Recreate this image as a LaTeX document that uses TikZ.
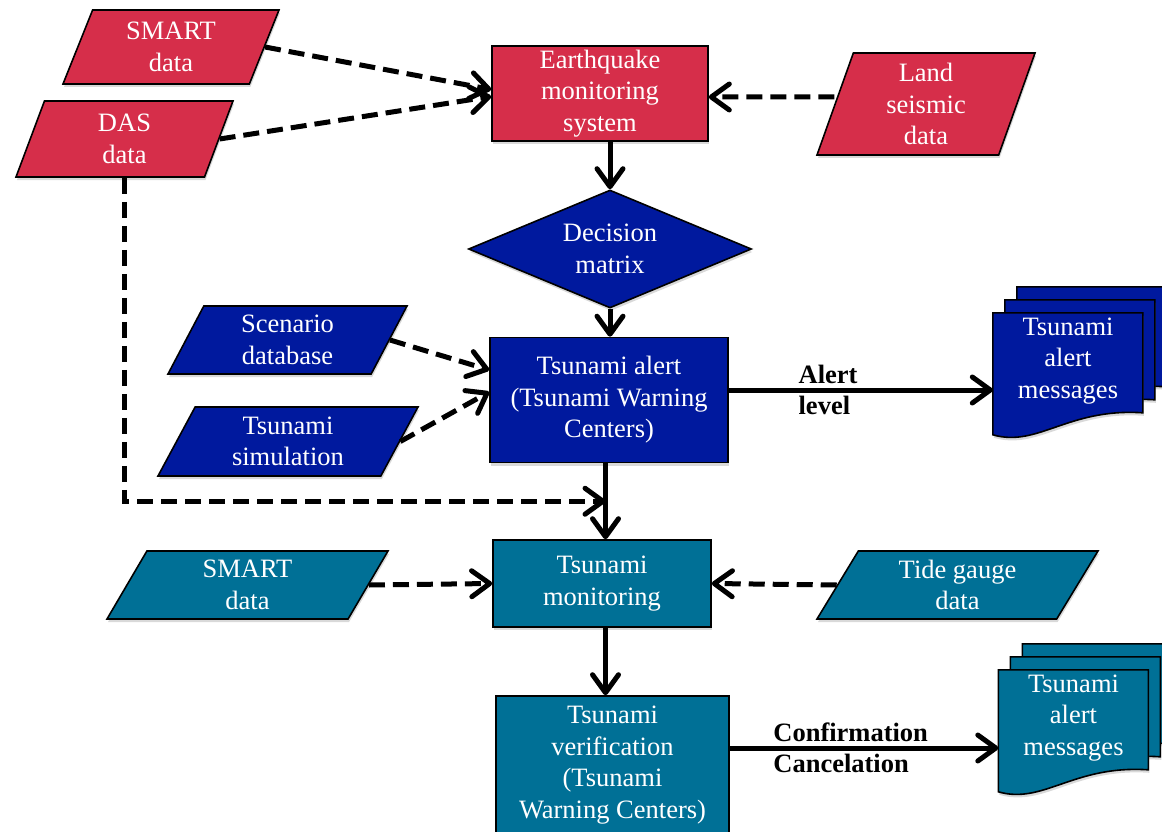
\documentclass[tikz,border=0pt]{standalone}
\usepackage{fontspec}
\setmainfont{Liberation Serif}
\usetikzlibrary{shapes.geometric, arrows.meta, positioning, calc, shadows, backgrounds}
\definecolor{cQuake}{RGB}{214,46,74}
\definecolor{cAlert}{RGB}{0,25,158}
\definecolor{cMon}{RGB}{0,112,150}
\newcommand{\boxfont}{\fontsize{26.5}{31.5}\selectfont}
\tikzset{
	% flowchart shapes
	soft/.style     ={drop shadow={shadow xshift=1pt, shadow yshift=-3pt, opacity=0.3}},
	lowtext/.style  ={execute at begin node={\rule{0pt}{24pt}}},
	procbox/.style  ={rectangle, draw=black, line width=1.6pt, text=white, align=center, font=\boxfont, inner sep=2pt, lowtext, soft},
	datain/.style   ={trapezium, trapezium stretches body, draw=black, line width=1.6pt, text=white, align=center, font=\boxfont, inner sep=0pt, lowtext, soft},
	choice/.style   ={diamond, aspect=2.4, draw=black, line width=1.6pt, text=white, align=center, font=\boxfont, inner sep=0pt, lowtext, soft},
	msgtext/.style  ={rectangle, minimum width=150pt, minimum height=96pt, text=white, align=center, font=\boxfont, inner sep=0pt, lowtext},
	sheet/.style    ={draw=black, line width=1.6pt, soft},
	% connectors
	flow/.style     ={-{Straight Barb[length=18pt, width=26pt, round]}, line width=5pt},
	dflow/.style    ={flow, dash pattern=on 16pt off 8pt},
	lvl/.style      ={font=\boxfont\bfseries, align=left, inner sep=0pt},
}
% one page of a message stack, #1 = top left corner, #2 = fill
\newcommand{\msgsheet}[2]{%
	\begin{scope}[shift={#1}]
		\draw[sheet, fill=#2] (0,0) -- (150,0) -- (150,100) .. controls (75,95) and (45,135) .. (0,122) -- cycle;
	\end{scope}}

\begin{document}
\begin{tikzpicture}[x=1pt, y=-1pt]
	\useasboundingbox (0,0) rectangle (1162,832);

	% earthquake monitoring
	\node[procbox, fill=cQuake, minimum width=216pt, minimum height=95pt] (ems) at (600,93.5) {Earthquake\\monitoring\\system};
	\node[datain, fill=cQuake, trapezium left angle=59, trapezium right angle=121, minimum width=216pt, minimum height=74pt] (smart1) at (171,47) {SMART\\data};
	\node[datain, fill=cQuake, trapezium left angle=60, trapezium right angle=120, minimum width=217pt, minimum height=76pt] (das) at (124.5,139) {DAS\\data};
	\node[datain, fill=cQuake, trapezium left angle=66, trapezium right angle=114, minimum width=218pt, minimum height=102pt] (land) at (926,104) {Land\\seismic\\data};
	\node[choice, fill=cAlert, minimum width=283pt, minimum height=118pt] (dec) at (610,249) {Decision\\matrix};

	% tsunami alert
	\node[procbox, fill=cAlert, minimum width=238pt, minimum height=125pt] (talert) at (609,400) {Tsunami alert\\(Tsunami Warning\\Centers)};
	\node[datain, fill=cAlert, trapezium left angle=54, trapezium right angle=126, minimum width=239pt, minimum height=68pt] (scen) at (287.5,340) {Scenario\\database};
	\node[datain, fill=cAlert, trapezium left angle=53, trapezium right angle=127, minimum width=260pt, minimum height=69pt] (sim) at (288,441.5) {Tsunami\\simulation};
	\node[msgtext] (msg1) at (1068,361) {Tsunami\\alert\\messages};

	% tsunami monitoring and verification
	\node[procbox, fill=cMon, minimum width=218pt, minimum height=87pt] (tmon) at (602,583.5) {Tsunami\\monitoring};
	\node[datain, fill=cMon, trapezium left angle=51, trapezium right angle=129, minimum width=281pt, minimum height=68pt] (smart2) at (247.5,585) {SMART\\data};
	\node[datain, fill=cMon, trapezium left angle=50.5, trapezium right angle=129.5, minimum width=281pt, minimum height=68pt] (tide) at (957.5,585) {Tide gauge\\data};
	\node[procbox, fill=cMon, minimum width=233pt, minimum height=138pt] (tver) at (612.5,765) {Tsunami\\verification\\(Tsunami\\Warning Centers)};
	\node[msgtext] (msg2) at (1073.5,718) {Tsunami\\alert\\messages};

	% message stacks behind the texts
	\begin{scope}[on background layer]
		\foreach \k in {2,1,0} {
			\msgsheet{($(msg1.north west)+(12*\k,-13*\k)$)}{cAlert}
			\msgsheet{($(msg2.north west)+(12*\k,-13*\k)$)}{cMon}
		}
	\end{scope}

	\coordinate (join) at ($(talert.south)!0.5!(tmon.north)$);

	% data inputs
	\draw[dflow] (smart1.east) -- ([yshift=4pt]ems.west);
	\draw[dflow] (das.east) -- ([yshift=-3pt]ems.west);
	\draw[dflow] ([yshift=7pt]land.west) -- ([yshift=-3.5pt]ems.east);
	\draw[dflow] (scen.east) -- ([yshift=30pt]talert.west);
	\draw[dflow] (sim.east) -- ([yshift=8pt]talert.west);
	\draw[dflow] (das.south) |- (join);
	\draw[dflow] (smart2.east) -- (tmon.west);
	\draw[dflow] (tide.west) -- (tmon.east);

	% main flow
	\draw[flow] (ems.south -| dec.north) -- (dec.north);
	\draw[flow] (dec.south) -- (dec.south |- talert.north);
	\draw[flow] (join |- talert.south) -- (join |- tmon.north);
	\draw[flow] (join |- tmon.south) -- (join |- tver.north);
	\draw[flow] ([yshift=10pt]talert.east) -- node[lvl, pos=0.255, right] (alvl) {Alert\\level} ([yshift=10pt]talert.east -| msg1.west);
	\draw[flow] ([yshift=17pt]tver.east) -- node[lvl, pos=0.153, right] (ccl) {Confirmation\\Cancelation} ([yshift=17pt]tver.east -| msg2.west);
\end{tikzpicture}
\end{document}
